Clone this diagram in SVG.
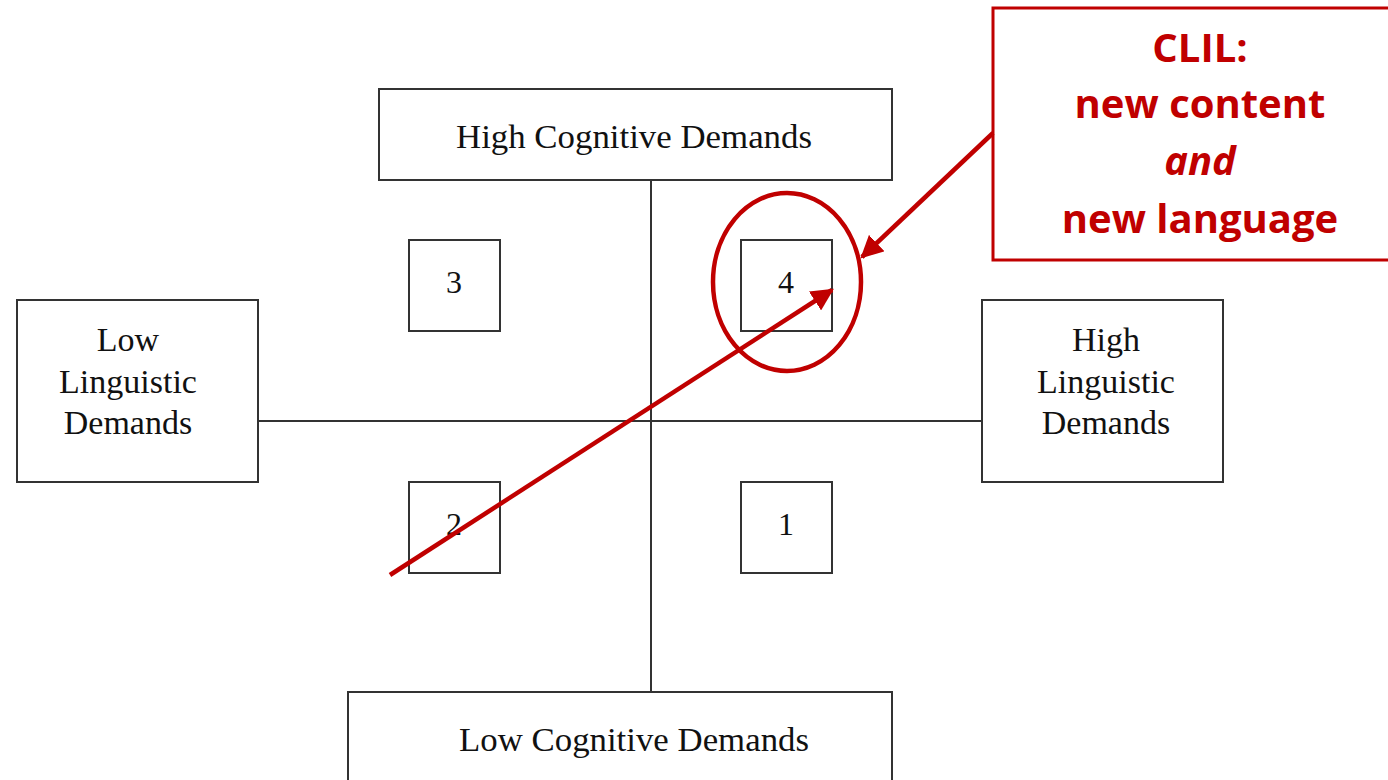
<svg xmlns="http://www.w3.org/2000/svg" width="1388" height="780" viewBox="0 0 1388 780">
<style>
.box{fill:#fff;stroke:#333;stroke-width:2}
.t{font-family:"Liberation Serif",serif;font-size:34px;fill:#111;text-anchor:middle}
.n{font-family:"Liberation Serif",serif;font-size:32px;fill:#111;text-anchor:middle}
.ax{stroke:#333;stroke-width:2;fill:none}
.red{stroke:#C00000;stroke-width:4.5;fill:none}
.rt{font-family:"Open Sans","Liberation Sans",sans-serif;font-weight:bold;font-size:40px;fill:#C00000;text-anchor:middle}
</style>
<defs>
<marker id="ah" viewBox="0 0 10 10" refX="9" refY="5" markerWidth="5" markerHeight="5" orient="auto" markerUnits="strokeWidth">
<path d="M0,0 L10,5 L0,10 z" fill="#C00000"/>
</marker>
</defs>
<rect width="1388" height="780" fill="#fff"/>
<g id="axes">
<line class="ax" x1="651" y1="180" x2="651" y2="692"/>
<line class="ax" x1="258" y1="421" x2="982" y2="421"/>
</g>
<g id="high-cog"><rect class="box" x="379" y="89" width="513" height="91"/><text class="t" x="634" y="148" textLength="356" lengthAdjust="spacingAndGlyphs">High Cognitive Demands</text></g>
<g id="low-cog"><rect class="box" x="348" y="692" width="544" height="100"/><text class="t" x="634" y="751" textLength="350" lengthAdjust="spacingAndGlyphs">Low Cognitive Demands</text></g>
<g id="low-ling"><rect class="box" x="17" y="300" width="241" height="182"/><text class="t" x="128" y="351">Low</text><text class="t" x="128" y="393">Linguistic</text><text class="t" x="128" y="434">Demands</text></g>
<g id="high-ling"><rect class="box" x="982" y="300" width="241" height="182"/><text class="t" x="1106" y="351">High</text><text class="t" x="1106" y="393">Linguistic</text><text class="t" x="1106" y="434">Demands</text></g>
<g id="q3"><rect class="box" x="409" y="240" width="91" height="91"/><text class="n" x="454" y="293">3</text></g>
<g id="q4"><rect class="box" x="741" y="240" width="91" height="91"/><text class="n" x="786" y="293">4</text></g>
<g id="q2"><rect class="box" x="409" y="482" width="91" height="91"/><text class="n" x="454" y="535">2</text></g>
<g id="q1"><rect class="box" x="741" y="482" width="91" height="91"/><text class="n" x="786" y="535">1</text></g>
<g id="clil"><rect x="993" y="8" width="400" height="252" fill="#fff" stroke="#C00000" stroke-width="3"/>
<text class="rt" x="1200" y="62">CLIL:</text>
<text class="rt" x="1200" y="118">new content</text>
<text class="rt" x="1200" y="175" font-style="italic">and</text>
<text class="rt" x="1200" y="233">new language</text></g>
<g id="highlight"><ellipse class="red" cx="787" cy="282" rx="74" ry="89"/></g>
<g id="connectors">
<line class="red" x1="993" y1="133" x2="862" y2="257" marker-end="url(#ah)"/>
<line class="red" x1="390" y1="575" x2="832" y2="290" marker-end="url(#ah)"/>
</g>
</svg>
